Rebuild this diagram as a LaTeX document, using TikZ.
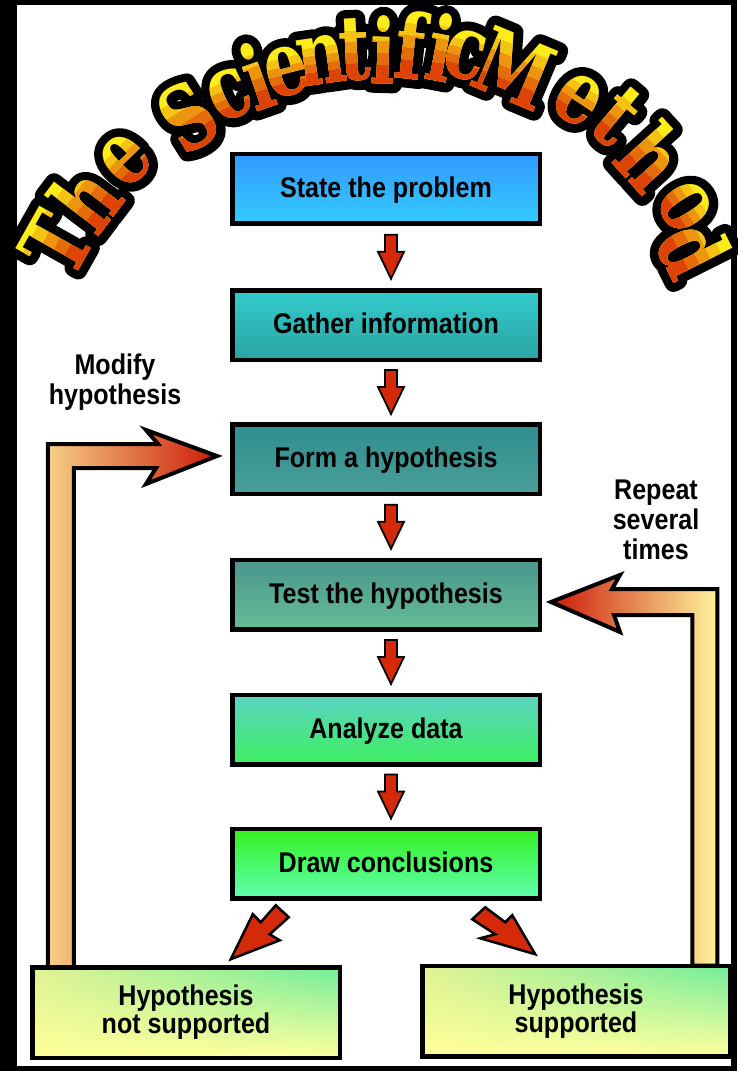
\documentclass[tikz,border=0pt]{standalone}
\usepackage{fontspec}
\usetikzlibrary{calc,shadings}
\newfontfamily\boxfont{Liberation Sans}[FakeStretch=0.88]
\newfontfamily\titlefont{DejaVu Serif}[FakeStretch=0.75]
\newfontfamily\titleline{DejaVu Serif}[FakeStretch=0.75, FakeBold=20]
\definecolor{ty}{HTML}{FFEC1A}
\definecolor{tr}{HTML}{D41E00}
\definecolor{c1t}{HTML}{3399FF}\definecolor{c1b}{HTML}{33CCFF}
\definecolor{c2t}{HTML}{33CCCC}\definecolor{c2b}{HTML}{2BA3A3}
\definecolor{c3t}{HTML}{2E8E8E}\definecolor{c3b}{HTML}{4A9E98}
\definecolor{c4t}{HTML}{4A968C}\definecolor{c4b}{HTML}{66BC98}
\definecolor{c5t}{HTML}{5AD2C2}\definecolor{c5b}{HTML}{3EF060}
\definecolor{c6t}{HTML}{33F01E}\definecolor{c6b}{HTML}{60FFB0}
\definecolor{yul}{HTML}{E0F294}\definecolor{yur}{HTML}{70EE9A}
\definecolor{yll}{HTML}{FFFF99}\definecolor{ylr}{HTML}{FFFFA0}
\definecolor{tan}{HTML}{F7CF86}\definecolor{orng}{HTML}{EE9058}
\definecolor{arred}{HTML}{CC1A08}\definecolor{orng2}{HTML}{F2A064}
\definecolor{paley}{HTML}{FFF59E}\definecolor{smallred}{HTML}{D42A0A}
\pgfdeclarelayer{bg}
\pgfsetlayers{bg,main}
\def\titledata{54/242/60.6/35/T, 84/198/52.8/35/h, 126/160/44.1/23/e, 188/117/32/33/S, 230/95/24.3/23/c, 256/76/19.2/34/i, 287/72/14.1/23/e, 322/61/8.2/23/n, 355/50/2.7/30/t, 383/50/-1.8/34/i, 411/45/-6.1/34/f, 441/48/-10.8/34/i, 465/55/-14.7/23/c, 515/68/-22.7/33/M, 578/100/-33.6/23/e, 618/117/-40/30/t, 652/157/-47.8/34/h, 685/207/-57/23/o, 694/248/-63.4/34/d}
\tikzset{
  box/.style={draw=black, line width=4.5pt, minimum width=307.5pt, minimum height=69.5pt,
    inner sep=0pt, text height=22pt, text depth=5pt,
    font=\boxfont\bfseries\fontsize{28.5}{30}\selectfont},
  btmbox/.style={draw=black, line width=4.5pt, minimum width=307.5pt, minimum height=90.5pt,
    inner sep=0pt, align=center, shade, upper left=yul, upper right=yur,
    lower left=yll, lower right=ylr,
    font=\boxfont\bfseries\fontsize{28.5}{28}\selectfont},
  lbl/.style={align=center, inner sep=0pt, font=\boxfont\bfseries\fontsize{28.5}{30}\selectfont},
  tlet/.style={font=\titlefont\bfseries\fontsize{90}{90}\selectfont, anchor=base,
    inner sep=0pt, transform shape},
  tline/.style={font=\titleline\bfseries\fontsize{90}{90}\selectfont, anchor=base,
    inner sep=0pt, transform shape, text=black},
  redarrow/.style={fill=smallred, draw=black, line width=1.8pt, line join=miter},
  bigarrow/.style={draw=black, line width=4pt, line join=miter},
  pics/downarr/.style={code={\path[redarrow] (-6,22) -- (6,22) -- (6,5) -- (13,5)
    -- (0,-22) -- (-13,5) -- (-6,5) -- cycle;}}
}
\begin{document}
\begin{tikzpicture}[x=1pt,y=1pt]
\useasboundingbox (0,0) rectangle (737,-1071);
\begin{pgfonlayer}{bg}
\fill[white] (0,0) rectangle (737,-1071);
\fill[black] (0,0) rectangle (17,-1071);
\fill[black] (0,0) rectangle (737,-5);
\fill[black] (731,0) rectangle (737,-1071);
\fill[black] (0,-1066) rectangle (737,-1071);
\end{pgfonlayer}

% title outline
\begin{scope}[line join=round, line cap=round]
\foreach \x/\y/\r/\h/\ch in \titledata {
  \begin{scope}[shift={(\x,-\y)}, rotate=\r, shift={(0,-\h)}, line join=round]
    \node[tline] at (0,0) {\ch};
  \end{scope}}
\end{scope}
% title fill
\foreach \x/\y/\r/\h/\ch in \titledata {
  \begin{scope}[shift={(\x,-\y)}, rotate=\r, shift={(0,-\h)}]
    \node[tlet, text=ty] at (0,0) {\ch};
    \foreach \f/\p in {0.82/80, 0.64/58, 0.46/38, 0.28/18} {
      \begin{scope}
        \clip (-80,-40) rectangle (80,\f*2*\h);
        \node[tlet, text=ty!\p!tr] at (0,0) {\ch};
      \end{scope}}
  \end{scope}}

% main boxes
\node[box, top color=c1t, bottom color=c1b] (s1) at (386,-188.5) {State the problem};
\node[box, top color=c2t, bottom color=c2b] (s2) at (386,-325) {Gather information};
\node[box, top color=c3t, bottom color=c3b] (s3) at (386,-459) {Form a hypothesis};
\node[box, top color=c4t, bottom color=c4b] (s4) at (386,-594.5) {Test the hypothesis};
\node[box, top color=c5t, bottom color=c5b] (s5) at (386,-729.5) {Analyze data};
\node[box, top color=c6t, bottom color=c6b] (s6) at (386,-863.5) {Draw conclusions};

% bottom boxes
\node[btmbox] (nns) at (186,-1012.5) {Hypothesis\\not supported};
\node[btmbox] (sup) at (576,-1011) {Hypothesis\\supported};

% labels
\node[lbl, anchor=north] (lmod) at (115,-354) {Modify\\hypothesis};
\node[lbl, anchor=north] (lrep) at (656,-479.6) {Repeat\\several\\times};

% small arrows
\pic at ($(s1.south)!0.5!(s2.north)+(5,0)$) {downarr};
\pic at ($(s2.south)!0.5!(s3.north)+(5,0)$) {downarr};
\pic at ($(s3.south)!0.5!(s4.north)+(5,0)$) {downarr};
\pic at ($(s4.south)!0.5!(s5.north)+(5,0)$) {downarr};
\pic at ($(s5.south)!0.5!(s6.north)+(5,0)$) {downarr};

% diagonal arrows
\path[redarrow, line width=2.5pt, shift={(s6.south west)}]
  (45.75,-4.75) -- (58.75,-16.75) -- (39.75,-33.75) -- (49.75,-39.75)
  -- (0.75,-58.75) -- (22.75,-13.75) -- (30.75,-21.75) -- cycle;
\path[redarrow, line width=2.5pt, shift={(s6.south east)}]
  (-56.75,-6.75) -- (-36.75,-21.75) -- (-29.75,-14.75) -- (-6.75,-53.75)
  -- (-61.75,-37.75) -- (-46.75,-33.75) -- (-69.75,-18.75) -- cycle;

% feedback arrows
\coordinate (lt) at ($(s3.west)+(-13,3)$);
\coordinate (rt) at ($(s4.east)+(9,-7.5)$);
\begin{pgfonlayer}{bg}
\draw[bigarrow, left color=tan, middle color=orng, right color=arred]
  ($(nns.north west)+(17.75,-2)$) |- ($(lt)+(-59,12)$) -- ($(lt)+(-71,26)$) -- (lt)
  -- ($(lt)+(-71,-28)$) -- ($(lt)+(-61,-12)$) -| ($(nns.north west)+(43.75,-2)$) -- cycle;
\draw[bigarrow, left color=arred, middle color=orng2, right color=paley]
  (rt) -- ($(rt)+(69,27)$) -- ($(rt)+(61,13)$) -| ($(sup.north east)+(-14.75,-2)$)
  -- ($(sup.north east)+(-39.75,-2)$) |- ($(rt)+(63,-13)$) -- ($(rt)+(69,-30)$) -- cycle;
\end{pgfonlayer}
\end{tikzpicture}
\end{document}
